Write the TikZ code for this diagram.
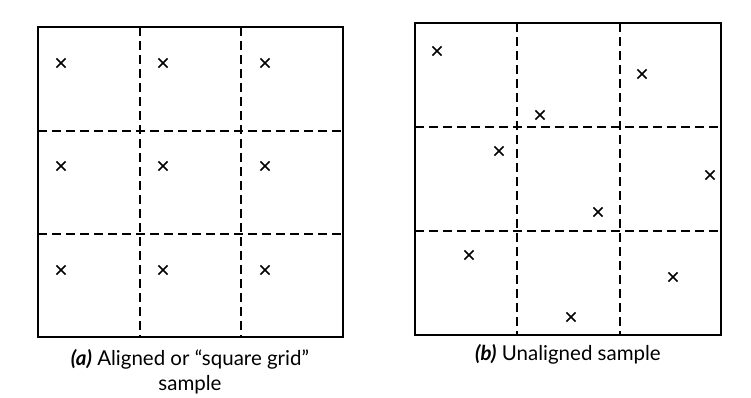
\documentclass[tikz,border=0pt]{standalone}
\usepackage{fontspec}
\setmainfont{Lato}
\usetikzlibrary{shapes.misc}
\begin{document}
\begin{tikzpicture}[x=1pt,y=-1pt,
  frame/.style={line width=2pt},
  cellline/.style={line width=1.5pt,dash pattern=on 9pt off 5pt},
  sampt/.style={cross out,draw,line width=1.7pt,minimum size=7.5pt,inner sep=0pt},
  caption/.style={font=\fontsize{20.5}{25}\selectfont,align=center}]
\useasboundingbox (0,0) rectangle (751,398);

% (a) aligned grid
\draw[frame] (38,27) rectangle (343,337);
\draw[cellline] (140,27) -- (140,337);
\draw[cellline] (241,27) -- (241,337);
\draw[cellline] (38,131) -- (343,131);
\draw[cellline] (38,234) -- (343,234);
\foreach \i/\x in {1/61,2/163,3/265}
  \foreach \j/\y in {1/63,2/166,3/270}
    \node[sampt] (a\i\j) at (\x,\y) {};
\node[caption] (capa) at (190,372) {\textbf{\textit{(a)}} Aligned or ``square grid''\\sample};

% (b) unaligned grid
\draw[frame] (415,23) rectangle (721,335);
\draw[cellline] (517,23) -- (517,335);
\draw[cellline] (620,23) -- (620,335);
\draw[cellline] (415,127) -- (721,127);
\draw[cellline] (415,231) -- (721,231);
\node[sampt] (b1) at (437,51) {};
\node[sampt] (b2) at (642,74) {};
\node[sampt] (b3) at (540,115) {};
\node[sampt] (b4) at (499,151) {};
\node[sampt] (b5) at (710,175) {};
\node[sampt] (b6) at (598,212) {};
\node[sampt] (b7) at (469,255) {};
\node[sampt] (b8) at (673,277) {};
\node[sampt] (b9) at (571,317) {};
\node[caption] (capb) at (568,354) {\textbf{\textit{(b)}} Unaligned sample};
\end{tikzpicture}
\end{document}
